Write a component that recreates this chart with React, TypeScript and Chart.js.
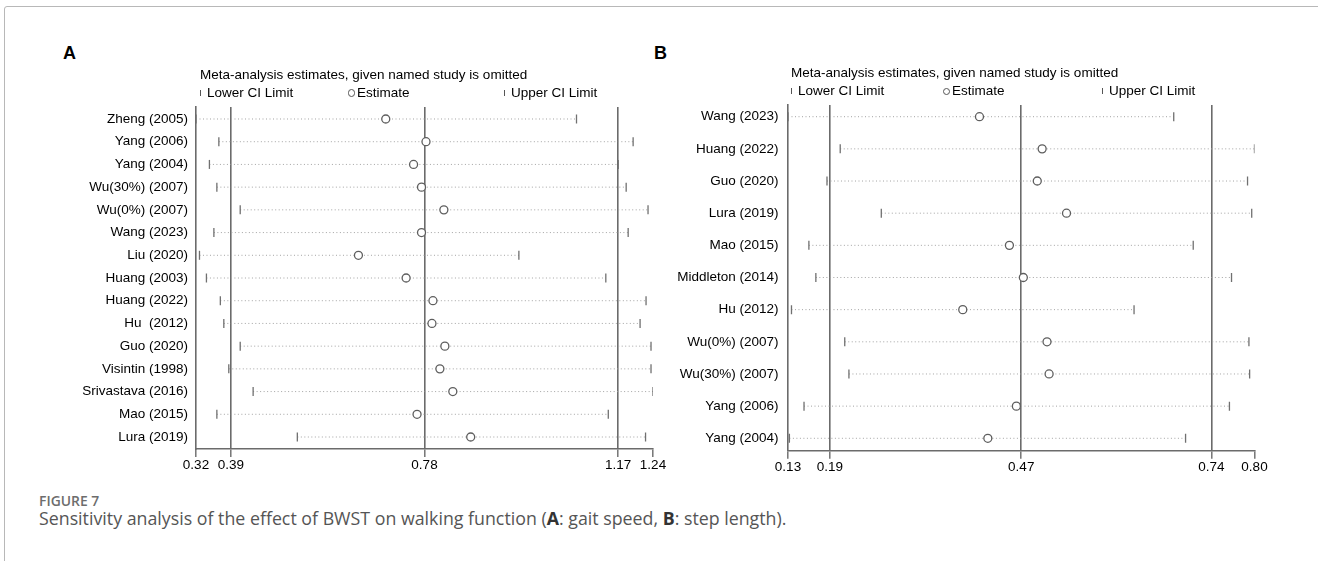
import React, { useEffect, useRef } from "react";
import { Chart, registerables } from "chart.js";
Chart.register(...registerables);

// ---------- Panel A: gait speed ----------
const studiesA = [
  "Zheng (2005)", "Yang (2006)", "Yang (2004)", "Wu(30%) (2007)", "Wu(0%) (2007)",
  "Wang (2023)", "Liu (2020)", "Huang (2003)", "Huang (2022)", "Hu  (2012)",
  "Guo (2020)", "Visintin (1998)", "Srivastava (2016)", "Mao (2015)", "Lura (2019)",
];
const lowerA = [0.32, 0.366, 0.347, 0.362, 0.409, 0.356, 0.327, 0.341, 0.369, 0.376, 0.409, 0.386, 0.435, 0.362, 0.524];
const estimateA = [0.702, 0.783, 0.758, 0.774, 0.819, 0.774, 0.647, 0.743, 0.797, 0.795, 0.821, 0.811, 0.837, 0.765, 0.873];
const upperA = [1.086, 1.2, 1.17, 1.186, 1.23, 1.19, 0.97, 1.145, 1.226, 1.214, 1.236, 1.236, 1.24, 1.15, 1.225];
const tickValuesA = [0.32, 0.39, 0.78, 1.17, 1.24];
const tickLabelsA = ["0.32", "0.39", "0.78", "1.17", "1.24"];
const refValuesA = [0.39, 0.78, 1.17];

// ---------- Panel B: step length ----------
const studiesB = [
  "Wang (2023)", "Huang (2022)", "Guo (2020)", "Lura (2019)", "Mao (2015)",
  "Middleton (2014)", "Hu (2012)", "Wu(0%) (2007)", "Wu(30%) (2007)", "Yang (2006)", "Yang (2004)",
];
const lowerB = [0.13, 0.205, 0.186, 0.264, 0.16, 0.17, 0.135, 0.2115, 0.2175, 0.153, 0.132];
const estimateB = [0.405, 0.495, 0.488, 0.53, 0.448, 0.468, 0.381, 0.502, 0.505, 0.458, 0.417];
const upperB = [0.684, 0.8, 0.79, 0.796, 0.712, 0.767, 0.627, 0.792, 0.793, 0.764, 0.701];
const tickValuesB = [0.13, 0.19, 0.465, 0.738, 0.8];
const tickLabelsB = ["0.13", "0.19", "0.47", "0.74", "0.80"];
const refValuesB = [0.19, 0.465, 0.738];

const FONT = "'Liberation Sans', Arial, sans-serif";
const AXIS_GRAY = "#6b6b6b";

type PanelProps = {
  names: string[];
  lower: number[];
  estimate: number[];
  upper: number[];
  tickValues: number[];
  tickLabels: string[];
  refValues: number[];
  left: number;
  top: number;
  width: number;
  height: number;
  yAxisWidth: number;
  xAxisHeight: number;
  padTop: number;
  padRight: number;
  offTop: number;
  offBottom: number;
  labelPad: number;
};

function ForestPanel(p: PanelProps) {
  const ref = useRef<HTMLCanvasElement | null>(null);
  useEffect(() => {
    if (!ref.current) return;
    const n = p.names.length;
    const datasets: any[] = [];
    datasets.push({
      label: "Estimate",
      data: p.estimate.map((v, i) => ({ x: v, y: i })),
      pointStyle: "circle",
      pointRadius: 4,
      pointBorderWidth: 1.3,
      borderColor: "#5e5e5e",
      pointBorderColor: "#5e5e5e",
      backgroundColor: "#ffffff",
      pointBackgroundColor: "#ffffff",
    });
    datasets.push({
      label: "Limits",
      data: [
        ...p.lower.map((v, i) => ({ x: v, y: i })),
        ...p.upper.map((v, i) => ({ x: v, y: i })),
      ],
      pointStyle: "line",
      pointRotation: 90,
      pointRadius: 4.5,
      pointBorderWidth: 1.3,
      borderColor: "#707070",
      pointBorderColor: "#707070",
    });
    p.names.forEach((_, i) => {
      datasets.push({
        label: "CI " + i,
        data: [
          { x: p.lower[i], y: i },
          { x: p.upper[i], y: i },
        ],
        showLine: true,
        borderColor: "#a3a3a3",
        borderWidth: 1,
        borderDash: [1, 2.5],
        pointRadius: 0,
      });
    });

    const chart = new Chart(ref.current, {
      type: "scatter",
      data: { datasets },
      options: {
        animation: false,
        responsive: false,
        devicePixelRatio: 1,
        layout: { padding: { left: 0, right: p.padRight, top: p.padTop, bottom: 0 } },
        plugins: {
          legend: { display: false },
          tooltip: { enabled: false },
          title: { display: false },
        },
        scales: {
          x: {
            type: "linear",
            min: p.tickValues[0],
            max: p.tickValues[p.tickValues.length - 1],
            afterBuildTicks: (s: any) => {
              s.ticks = p.tickValues.map((v) => ({ value: v }));
            },
            afterFit: (s: any) => {
              s.height = p.xAxisHeight;
            },
            ticks: {
              autoSkip: false,
              maxRotation: 0,
              padding: 0,
              color: "#000",
              font: { family: FONT, size: 13.5 },
              callback: (_v: any, i: number) => p.tickLabels[i],
            },
            grid: {
              color: (ctx: any) =>
                ctx.tick && p.refValues.includes(ctx.tick.value) ? AXIS_GRAY : "rgba(0,0,0,0)",
              lineWidth: 1.6,
              tickColor: AXIS_GRAY,
              tickLength: 8,
              tickWidth: 1.4,
            },
            border: { display: true, color: AXIS_GRAY, width: 1.4 },
          },
          y: {
            type: "linear",
            reverse: true,
            min: -p.offTop,
            max: n - 1 + p.offBottom,
            afterBuildTicks: (s: any) => {
              s.ticks = p.names.map((_, i) => ({ value: i }));
            },
            afterFit: (s: any) => {
              s.width = p.yAxisWidth;
            },
            ticks: {
              autoSkip: false,
              padding: p.labelPad,
              color: "#000",
              font: { family: FONT, size: 13.5 },
              callback: (v: any) => p.names[v as number],
            },
            grid: { display: false },
            border: { display: true, color: AXIS_GRAY, width: 1.6 },
          },
        },
      },
    });
    return () => chart.destroy();
  }, []);
  return (
    <canvas
      ref={ref}
      width={p.width}
      height={p.height}
      style={{ position: "absolute", left: p.left, top: p.top, width: p.width, height: p.height }}
    />
  );
}

function Txt(props: { x: number; cy: number; size: number; children: any; style?: any }) {
  const lh = Math.round(props.size * 1.3);
  return (
    <div
      style={{
        position: "absolute",
        left: props.x,
        top: props.cy - lh / 2,
        lineHeight: lh + "px",
        fontSize: props.size,
        fontFamily: FONT,
        whiteSpace: "nowrap",
        color: "#000",
        ...(props.style || {}),
      }}
    >
      {props.children}
    </div>
  );
}

function Legend(props: { x: number; titleY: number; legY: number; circleDx: number; upperDx: number }) {
  const { x, titleY, legY, circleDx, upperDx } = props;
  const bar = (bx: number) => (
    <div style={{ position: "absolute", left: bx, top: legY - 3, width: 1, height: 6, background: "#555" }} />
  );
  return (
    <>
      <Txt x={x} cy={titleY} size={13.5}>Meta-analysis estimates, given named study is omitted</Txt>
      {bar(x)}
      <Txt x={x + 7} cy={legY} size={13.5}>Lower CI Limit</Txt>
      <div
        style={{
          position: "absolute",
          left: x + circleDx - 3.5,
          top: legY - 3.5,
          width: 5.6,
          height: 5.6,
          border: "1px solid #555",
          borderRadius: "50%",
        }}
      />
      <Txt x={x + circleDx + 6} cy={legY} size={13.5}>Estimate</Txt>
      {bar(x + upperDx)}
      <Txt x={x + upperDx + 7} cy={legY} size={13.5}>Upper CI Limit</Txt>
    </>
  );
}

export default function App() {
  return (
    <div
      style={{
        position: "absolute",
        left: 0,
        top: 0,
        width: 1318,
        height: 561,
        overflow: "hidden",
        background: "#fff",
      }}
    >
      <div
        style={{
          position: "absolute",
          left: 4,
          top: 6,
          width: 1340,
          height: 620,
          border: "1.5px solid #b8b8b8",
          borderRadius: 3,
        }}
      />
      <Txt x={63} cy={53.8} size={18} style={{ fontWeight: 700 }}>A</Txt>
      <Txt x={654} cy={53.8} size={18} style={{ fontWeight: 700 }}>B</Txt>

      <ForestPanel
        names={studiesA}
        lower={lowerA}
        estimate={estimateA}
        upper={upperA}
        tickValues={tickValuesA}
        tickLabels={tickLabelsA}
        refValues={refValuesA}
        left={0}
        top={0}
        width={670}
        height={490}
        yAxisWidth={196}
        xAxisHeight={41}
        padTop={107}
        padRight={17}
        offTop={0.528}
        offBottom={0.528}
        labelPad={0}
      />
      <ForestPanel
        names={studiesB}
        lower={lowerB}
        estimate={estimateB}
        upper={upperB}
        tickValues={tickValuesB}
        tickLabels={tickLabelsB}
        refValues={refValuesB}
        left={670}
        top={0}
        width={648}
        height={490}
        yAxisWidth={118}
        xAxisHeight={39.3}
        padTop={105}
        padRight={63.5}
        offTop={0.364}
        offBottom={0.386}
        labelPad={1.5}
      />

      <Legend x={200} titleY={75.3} legY={92.5} circleDx={151} upperDx={304} />
      <Legend x={791} titleY={72.7} legY={91} circleDx={155} upperDx={311} />

      <Txt
        x={39}
        cy={501}
        size={13.9}
        style={{ fontFamily: "'Open Sans', sans-serif", fontWeight: 600, color: "#6d6d6d" }}
      >
        FIGURE 7
      </Txt>
      <Txt
        x={39}
        cy={518}
        size={17.8}
        style={{ fontFamily: "'Open Sans', sans-serif", fontWeight: 400, color: "#555" }}
      >
        Sensitivity analysis of the effect of BWST on walking function (
        <b style={{ color: "#333" }}>A</b>: gait speed, <b style={{ color: "#333" }}>B</b>: step length).
      </Txt>
    </div>
  );
}
